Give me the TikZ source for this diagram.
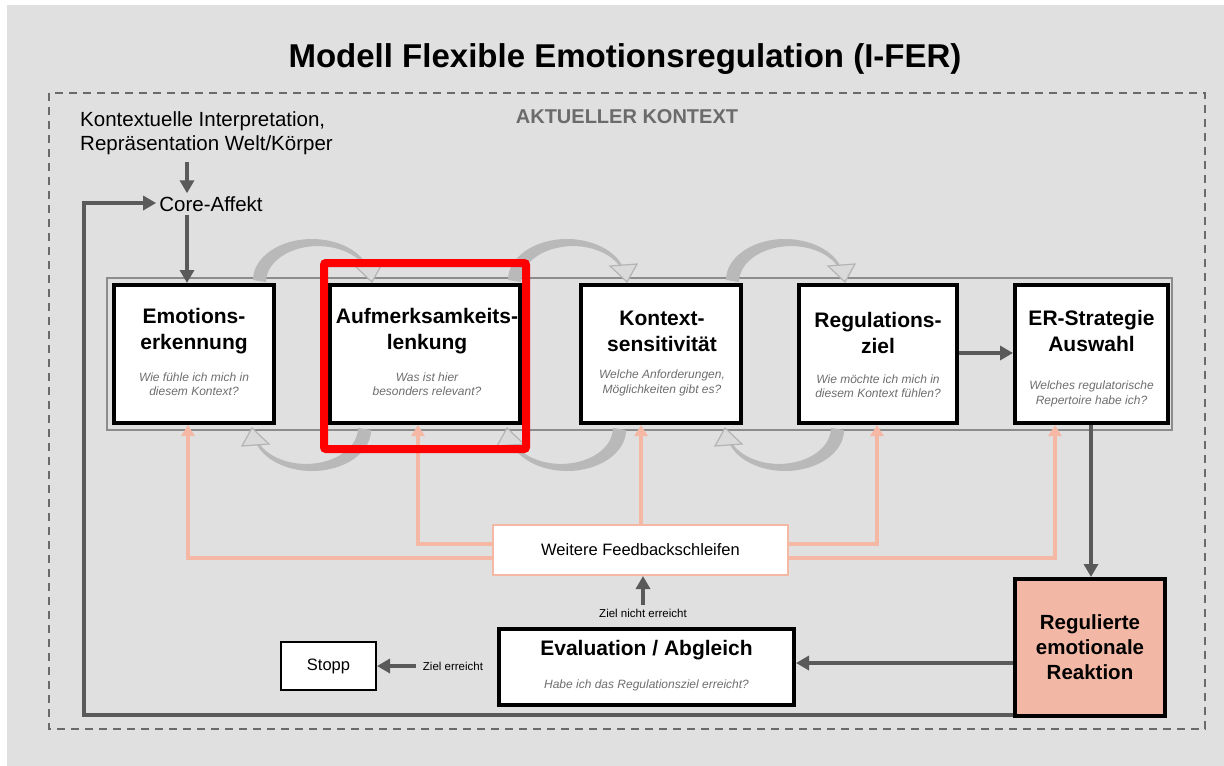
\documentclass[tikz,border=0pt]{standalone}
\usepackage{fontspec}
\setmainfont{Liberation Sans}
\usetikzlibrary{arrows.meta,calc}

\definecolor{bg}{HTML}{E0E0E0}
\definecolor{darkline}{HTML}{5A5A5A}
\definecolor{salmon}{HTML}{F4B8A4}
\definecolor{reakfill}{HTML}{F3B8A5}
\definecolor{subgray}{HTML}{6E6E6E}
\definecolor{dashgray}{HTML}{6A6A6A}
\definecolor{bandgray}{HTML}{8C8C8C}
\definecolor{ghost}{HTML}{B9B9B9}
\definecolor{ghostedge}{HTML}{B4B4B4}
\definecolor{ghosthead}{HTML}{DADADA}
\definecolor{ktxgray}{HTML}{6B6B6B}

\newcommand\fs[2]{\fontsize{#1}{#2}\selectfont}

% one half of a faint cycle arrow: crescent plus open head
\newcommand\ghosthalf{%
  \fill[ghost] (-59,280) arc[start angle=180,end angle=338,x radius=59,y radius=41]
    -- (54.2,268.6) arc[start angle=338,end angle=180,x radius=52,y radius=36] -- cycle;
  \filldraw[fill=ghosthead, draw=ghostedge, line width=1.2pt] (43,266) -- (70,264) -- (60,282) -- cycle;}

% a pair of faint cycle arrows between two neighbouring steps
\newcommand\ghostcycle[1]{%
  \begin{scope}[shift={(#1,0)}]
    \ghosthalf
    \begin{scope}[rotate around={180:(0,355)}]
      \ghosthalf
    \end{scope}
  \end{scope}}

\tikzset{
  stepbox/.style={draw=black, line width=4pt, fill=white, inner sep=0pt},
  boxtitle/.style={font=\fs{21}{26}\bfseries, align=center, inner sep=0pt},
  boxsub/.style={font=\fs{12}{14.5}\itshape, text=subgray, align=center, inner sep=0pt},
  smalllabel/.style={font=\fs{11.5}{14}, inner sep=0pt},
  darr/.style={draw=darkline, line width=4.5pt, -{Triangle[length=13pt,width=14pt]}},
  farr/.style={draw=salmon, line width=3.5pt, -{Triangle[length=11pt,width=13pt]}},
}

\begin{document}
\begin{tikzpicture}[x=1pt, y=-1pt]
  \useasboundingbox (0,0) rectangle (1224,766);
  \fill[white] (0,0) rectangle (1224,766);
  \fill[bg] (7,5) rectangle (1224,766);

  % heading and context frame
  \node[font=\fs{33}{38}\bfseries, inner sep=0pt] (title) at (625,59) {Modell Flexible Emotionsregulation (I-FER)};
  \draw[dashgray, line width=2.5pt, dash pattern=on 8pt off 6pt] (49,93) rectangle (1205,729);
  \node[font=\fs{20}{24}\bfseries, text=ktxgray, inner sep=0pt] (ktx) at (627,117) {AKTUELLER KONTEXT};

  % input to the core affect
  \node[font=\fs{20.5}{24}, align=left, anchor=west, inner sep=0pt] (interp) at (80,133)
    {Kontextuelle Interpretation,\\Repräsentation Welt/Körper};
  \node[font=\fs{20.5}{24}, inner sep=3pt] (core) at (211,204) {Core-Affekt};
  \coordinate (loopcorner) at (84,203);

  % band holding the five steps
  \node[draw=bandgray, line width=1.5pt, fill=bg, minimum width=1065pt, minimum height=152pt, inner sep=0pt] (band) at (639.5,354) {};

  \ghostcycle{312}
  \ghostcycle{567}
  \ghostcycle{785}

  % the five steps
  \node[stepbox, minimum width=160pt, minimum height=138pt] (b1) at (194,354) {};
  \node[stepbox, minimum width=190pt, minimum height=138pt] (b2) at (425,354) {};
  \node[stepbox, minimum width=160pt, minimum height=138pt] (b3) at (661,354) {};
  \node[stepbox, minimum width=158pt, minimum height=138pt] (b4) at (878,354) {};
  \node[stepbox, minimum width=153pt, minimum height=138pt] (b5) at (1091.5,354) {};

  \node[boxtitle] (t1) at (194,331) {Emotions-\\erkennung};
  \node[boxsub]   (s1) at (194,384) {Wie fühle ich mich in\\diesem Kontext?};
  \node[boxtitle] (t2) at (427,331) {Aufmerksamkeits-\\lenkung};
  \node[boxsub]   (s2) at (427,384) {Was ist hier\\besonders relevant?};
  \node[boxtitle] (t3) at (662,331) {Kontext-\\sensitivität};
  \node[boxsub]   (s3) at (662,383) {Welche Anforderungen,\\Möglichkeiten gibt es?};
  \node[boxtitle] (t4) at (878,333) {Regulations-\\ziel};
  \node[boxsub]   (s4) at (878,386) {Wie möchte ich mich in\\diesem Kontext fühlen?};
  \node[boxtitle] (t5) at (1091.5,331) {ER-Strategie\\Auswahl};
  \node[boxsub]   (s5) at (1091.5,394) {Welches regulatorische\\Repertoire habe ich?};

  % feedback, evaluation, result
  \node[draw=salmon, line width=2pt, fill=white, minimum width=295pt, minimum height=50pt, inner sep=0pt,
        font=\fs{16.5}{20}] (fb) at (640.5,550) {Weitere Feedbackschleifen};
  \node[stepbox, minimum width=295pt, minimum height=76pt] (eval) at (646.5,667) {};
  \node[font=\fs{21}{26}\bfseries, inner sep=0pt] (evt) at (646.5,650) {Evaluation / Abgleich};
  \node[boxsub] (evs) at (646.5,685) {Habe ich das Regulationsziel erreicht?};
  \node[draw=black, line width=2pt, fill=white, minimum width=95pt, minimum height=48pt, inner sep=0pt,
        font=\fs{16.5}{20}] (stopp) at (328.5,666) {Stopp};
  \node[stepbox, fill=reakfill, minimum width=150pt, minimum height=137pt, align=center,
        font=\fs{20.5}{25}\bfseries] (reak) at (1090,647.5) {Regulierte\\emotionale\\Reaktion};
  \node[smalllabel] (notreached) at (643,613) {Ziel nicht erreicht};
  \node[smalllabel] (reached) at (453,666) {Ziel erreicht};

  % salmon feedback arrows up to the steps
  \draw[farr] (fb.west |- 0,558) -| (b1.south -| 188,0);
  \draw[farr] (fb.west |- 0,544) -| (b2.south -| 418,0);
  \draw[farr] (fb.north -| 641,0) -- (b3.south -| 641,0);
  \draw[farr] (fb.east |- 0,544) -| (b4.south -| 877,0);
  \draw[farr] (fb.east |- 0,558) -| (b5.south -| 1055,0);

  % highlight frame
  \node[draw=red, line width=8pt, rounded corners=2pt, minimum width=202pt, minimum height=186pt, inner sep=0pt] (focus) at (425,356) {};

  % dark connectors
  \draw[darr] (interp.south -| 187,0) ++(0,7) -- (core.north -| 187,0);
  \draw[darr] (core.south -| 187,0) -- (b1.north -| 187,0);
  \draw[darr] (b4.east |- 0,353) -- (b5.west |- 0,353);
  \draw[darr] (b5.south -| 1091,0) -- (reak.north -| 1091,0);
  \draw[darr] (reak.west |- 0,663) -- (eval.east |- 0,663);
  \draw[darr] (notreached.north -| 643,0) ++(0,-4) -- (fb.south -| 643,0);
  \draw[darr] (reached.west) ++(-7,0) -- (stopp.east);
  \draw[darr] (reak.west |- 0,715) -| (loopcorner) -- (core.west |- loopcorner);
\end{tikzpicture}
\end{document}
